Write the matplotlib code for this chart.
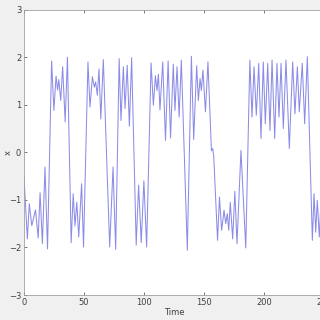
import numpy as np
import matplotlib.pyplot as plt

# turning points (time, x)
time = [0, 2.8, 4.4, 6.5, 9.6, 11.8, 13.4, 15.3, 17.5, 19.6,
        23.0, 24.9, 26.7, 28.0, 29.0, 30.6, 32.2, 34.3, 36.2,
        39.3, 41.0, 42.5, 44.0, 45.6, 48.0, 49.6,
        53.3, 55.0, 57.0, 58.6, 59.7, 61.1, 62.5, 64.0, 66.1,
        71.4, 74.2, 76.4,
        79.3, 80.8, 82.8, 84.2, 86.0, 87.8, 89.7,
        93.5, 95.5, 97.7, 99.9, 102.2,
        105.9, 107.8, 109.5, 110.8, 112.0, 113.3, 115.6, 117.9, 120.1, 122.1,
        124.4, 125.8, 127.5, 129.3, 131.1,
        136.1, 139.5, 141.4, 143.9, 145.3, 146.7, 147.8, 149.1, 151.2, 153.3,
        156.2, 157.2, 158.1, 161.3, 162.9, 164.7, 166.7, 168.1, 169.4, 170.6,
        171.9, 173.9, 175.7, 177.5, 180.8, 184.8,
        188.2, 190.0, 191.7, 193.6, 195.6, 197.5, 199.4, 201.1, 203.1, 205.0,
        206.7, 208.9, 210.8, 212.5, 214.2, 216.1, 218.3, 221.1, 223.9, 225.8,
        227.8, 229.4, 231.9, 233.9, 236.1,
        240.3, 241.7, 243.1, 244.4, 246.1, 247.5, 249.0, 250.5]
x = [-0.52, -1.82, -1.08, -1.54, -1.21, -1.80, -0.85, -1.92, -0.31, -2.03,
     1.92, 0.88, 1.60, 1.31, 1.53, 1.09, 1.80, 0.64, 2.00,
     -1.90, -0.87, -1.55, -1.05, -1.78, -0.66, -1.99,
     1.90, 0.95, 1.59, 1.37, 1.48, 1.20, 1.75, 0.70, 1.95,
     -1.99, -0.31, -2.04,
     1.97, 0.67, 1.80, 0.92, 1.83, 0.55, 1.99,
     -1.95, -0.69, -1.90, -0.60, -1.99,
     1.88, 0.99, 1.61, 1.30, 1.64, 0.89, 1.90, 0.25, 1.92, 0.30,
     1.85, 0.88, 1.80, 0.74, 1.94,
     -2.06, 2.02, 0.27, 1.82, 1.09, 1.55, 1.30, 1.73, 0.85, 1.90,
     0.03, 0.08, -0.08, -1.85, -0.94, -1.64, -1.22, -1.50, -1.29, -1.64,
     -1.05, -1.82, -0.82, -1.92, 0.04, -2.01,
     1.94, 0.74, 1.80, 0.78, 1.87, 0.29, 1.90, 0.60, 1.87, 0.46,
     1.94, 0.29, 1.87, 0.74, 1.87, 0.50, 1.94, 0.08, 1.90, 0.81,
     1.80, 0.85, 1.87, 0.60, 2.01,
     -1.85, -0.87, -1.68, -1.01, -1.78, -1.0, -1.7, -1.1]

fig = plt.figure(figsize=(3.2, 3.2), dpi=100, facecolor="#f0f0f0")
# axes run past the right edge, as in the cropped reference
ax = fig.add_axes([0.075, 0.078, 0.9375, 0.892])
ax.plot(time, x, color="#8c8ce8", lw=0.75)

ax.set_xlim(0, 250)
ax.set_ylim(-3, 3)
ax.set_xticks([0, 50, 100, 150, 200, 250])
ax.set_yticks([-3, -2, -1, 0, 1, 2, 3])
ax.tick_params(direction="in", length=2.5, width=0.5, labelsize=6,
               colors="#404040", top=True, right=True, pad=2)
for s in ax.spines.values():
    s.set_color("#a0a0a0")
    s.set_linewidth(0.6)
ax.set_xlabel("Time", fontsize=6, color="#404040", labelpad=1)
ax.set_ylabel("x", fontsize=6, color="#404040", rotation=90,
              ha="center", va="center")
ax.yaxis.set_label_coords(-0.053, 0.5)

fig.savefig("out.png", dpi=100, facecolor=fig.get_facecolor())
